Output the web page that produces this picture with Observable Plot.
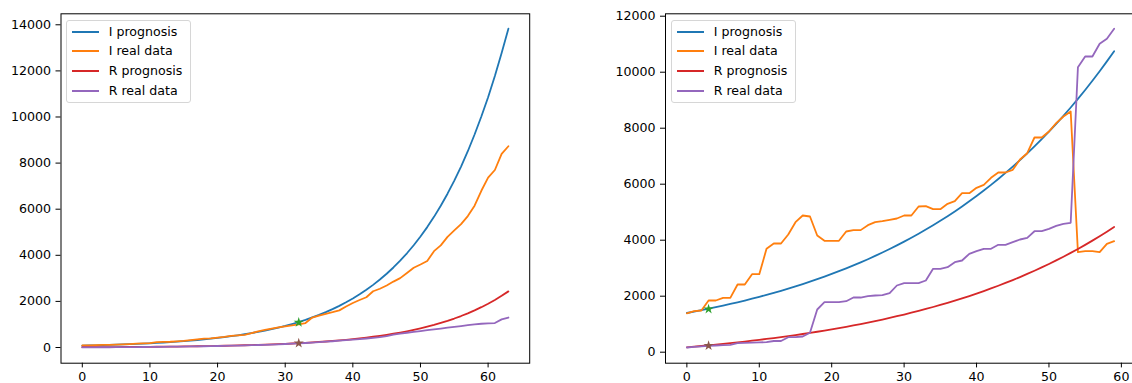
<!DOCTYPE html>
<html>
<head>
<meta charset="utf-8">
<script src="https://cdn.jsdelivr.net/npm/d3@7"></script>
<script src="https://cdn.jsdelivr.net/npm/@observablehq/plot@0.6"></script>
<style>
  html, body { margin: 0; padding: 0; background: white; overflow: hidden; }
  #wrap { position: relative; width: 1132px; height: 383px; overflow: hidden; font-family: "DejaVu Sans", sans-serif; }
  .panel { position: absolute; top: 0; }
  .panel svg { max-width: none !important; display: block; }
  .legend { position: absolute; background: rgba(255,255,255,0.8); border: 1px solid #d6d6d6; border-radius: 3px; box-sizing: border-box; }
  .row { position: absolute; left: 0; height: 20px; width: 100%; }
  .handle { position: absolute; left: 4.5px; width: 27.5px; height: 2px; top: 9px; }
  .lbl { position: absolute; left: 41.5px; top: 1px; font-size: 12.6px; line-height: 17px; color: #000; white-space: nowrap; }
</style>
</head>
<body>
<div id="wrap"></div>
<script>
// ---------- data ----------
const xTicks = [0, 10, 20, 30, 40, 50, 60];
const leftYTicks = [0, 2000, 4000, 6000, 8000, 10000, 12000, 14000];
const rightYTicks = [0, 2000, 4000, 6000, 8000, 10000, 12000];
const seriesNames = ["I prognosis", "I real data", "R prognosis", "R real data"];

// left panel, days 0..63
const leftIprog = [81,88,95,104,112,122,132,144,156,169,183,199,216,234,254,276,299,325,353,383,415,450,489,530,575,624,678,735,798,866,939,1019,1106,1200,1303,1413,1534,1664,1806,1960,2126,2307,2504,2717,2948,3199,3472,3767,4088,4436,4813,5223,5668,6150,6673,7240,7850,8515,9240,10020,10860,11780,12780,13830];
const leftIreal = [90,95,100,110,118,125,135,150,165,175,190,235,240,250,270,290,320,355,385,400,430,460,500,530,550,620,700,760,820,870,920,960,1000,1060,1300,1380,1460,1530,1610,1780,1930,2060,2180,2440,2550,2690,2860,3010,3230,3460,3600,3750,4180,4430,4800,5080,5350,5700,6150,6800,7370,7700,8400,8730];
const leftRprog = [13,14,16,17,19,20,22,24,26,28,30,33,36,39,42,46,50,54,59,64,70,76,82,89,97,105,114,124,135,146,159,173,188,204,221,240,261,284,308,335,363,395,429,466,506,550,597,648,704,765,831,903,980,1065,1157,1257,1365,1483,1610,1749,1900,2064,2242,2435];
const leftRreal = [5,6,8,10,12,14,16,18,20,22,25,28,31,35,38,42,46,50,55,60,66,72,78,85,92,100,108,118,128,140,152,166,180,196,214,232,252,272,295,320,342,365,390,420,450,490,560,600,640,675,710,750,785,820,860,895,930,970,1005,1030,1045,1060,1220,1300];
const leftStarX = [32];
const leftStarI = [1090];
const leftStarR = [188];

// right panel, days 0..59
const rightIprog = [1400,1449,1500,1553,1608,1664,1723,1783,1846,1911,1978,2048,2120,2194,2271,2351,2434,2519,2608,2700,2794,2893,2994,3100,3209,3321,3438,3559,3684,3814,3948,4087,4230,4379,4533,4692,4857,5028,5205,5388,5577,5773,5976,6186,6404,6629,6862,7103,7353,7611,7879,8156,8442,8739,9046,9364,9693,10034,10386,10751];
const rightIreal = [1390,1464,1489,1846,1846,1942,1942,2418,2418,2786,2786,3692,3882,3882,4203,4643,4882,4846,4168,3978,3978,3978,4311,4360,4360,4536,4643,4680,4730,4775,4882,4882,5203,5215,5108,5108,5300,5393,5680,5680,5870,5978,6228,6418,6418,6514,6882,7107,7668,7668,7882,8179,8418,8596,3571,3607,3607,3571,3871,3964];
const rightRprog = [175,198,221,246,271,296,324,351,380,410,440,473,506,540,575,612,650,689,730,772,815,861,907,956,1006,1057,1111,1167,1224,1284,1345,1409,1475,1543,1614,1687,1763,1841,1923,2006,2093,2183,2277,2373,2473,2577,2684,2795,2909,3028,3151,3278,3410,3546,3687,3833,3984,4141,4302,4470];
const rightRreal = [168,193,210,228,240,252,264,321,330,343,350,357,400,400,536,536,560,693,1525,1786,1786,1786,1821,1953,1953,2000,2025,2036,2107,2382,2464,2464,2464,2560,2978,2978,3036,3214,3275,3514,3607,3693,3693,3836,3836,3929,4025,4086,4321,4321,4407,4514,4586,4621,10179,10561,10561,11014,11193,11550];
const rightStarX = [3];
const rightStarI = [1540];
const rightStarR = [235];

const colors = ["#1f77b4", "#ff7f0e", "#d62728", "#9467bd"];
const starColors = ["#2ca02c", "#8c564b"];

function panel({series, starX, starI, starR, yTicks, xDomain, yDomain, width, marginLeft, marginRight}) {
  const marks = [
    Plot.axisX({ticks: xTicks, tickSize: 4.7, tickPadding: 4.5, tickFormat: d => String(d), label: null, fontSize: 12.6}),
    Plot.axisY({ticks: yTicks, tickSize: 5, tickPadding: 5, tickFormat: d => String(d), label: null, fontSize: 12.6})
  ];
  series.forEach((s, k) => {
    marks.push(Plot.lineY(s, {x: (d, i) => i, y: d => d, stroke: colors[k], strokeWidth: 1.8}));
  });
  marks.push(Plot.dot(starX, {x: d => d, y: (d, i) => starI[i], symbol: "star", fill: starColors[0], r: 3.2}));
  marks.push(Plot.dot(starX, {x: d => d, y: (d, i) => starR[i], symbol: "star", fill: starColors[1], r: 3.2}));
  marks.push(Plot.frame({stroke: "black", strokeWidth: 1}));
  return Plot.plot({
    width, height: 383,
    marginLeft, marginRight, marginTop: 13.3, marginBottom: 20.3,
    x: {domain: xDomain},
    y: {domain: yDomain},
    style: {fontFamily: "DejaVu Sans", fontSize: "12.6px", color: "#000", background: "transparent", overflow: "visible", maxWidth: "none"},
    marks
  });
}

const wrap = document.getElementById("wrap");

const left = panel({
  series: [leftIprog, leftIreal, leftRprog, leftRreal],
  starX: leftStarX, starI: leftStarI, starR: leftStarR,
  yTicks: leftYTicks, xDomain: [-3.15, 66.15], yDomain: [-681, 14477],
  width: 566, marginLeft: 60.5, marginRight: 36.8
});
const lp = document.createElement("div");
lp.className = "panel"; lp.style.left = "0px"; lp.style.width = "566px";
lp.appendChild(left);
wrap.appendChild(lp);

const right = panel({
  series: [rightIprog, rightIreal, rightRprog, rightRreal],
  starX: rightStarX, starI: rightStarI, starR: rightStarR,
  yTicks: rightYTicks, xDomain: [-2.95, 61.95], yDomain: [-393, 12086],
  width: 580, marginLeft: 99, marginRight: 11
});
const rp = document.createElement("div");
rp.className = "panel"; rp.style.left = "566px"; rp.style.width = "580px";
rp.appendChild(right);
wrap.appendChild(rp);

function legend(x) {
  const box = document.createElement("div");
  box.className = "legend";
  box.style.left = x + "px";
  box.style.top = "19.5px";
  box.style.width = "125px";
  box.style.height = "83px";
  seriesNames.forEach((name, k) => {
    const row = document.createElement("div");
    row.className = "row";
    row.style.top = (1 + k * 19.7) + "px";
    const h = document.createElement("div");
    h.className = "handle";
    h.style.backgroundColor = colors[k];
    const t = document.createElement("div");
    t.className = "lbl";
    t.textContent = name;
    row.appendChild(h); row.appendChild(t);
    box.appendChild(row);
  });
  wrap.appendChild(box);
}
legend(66.2);
legend(671.2);
</script>
</body>
</html>
